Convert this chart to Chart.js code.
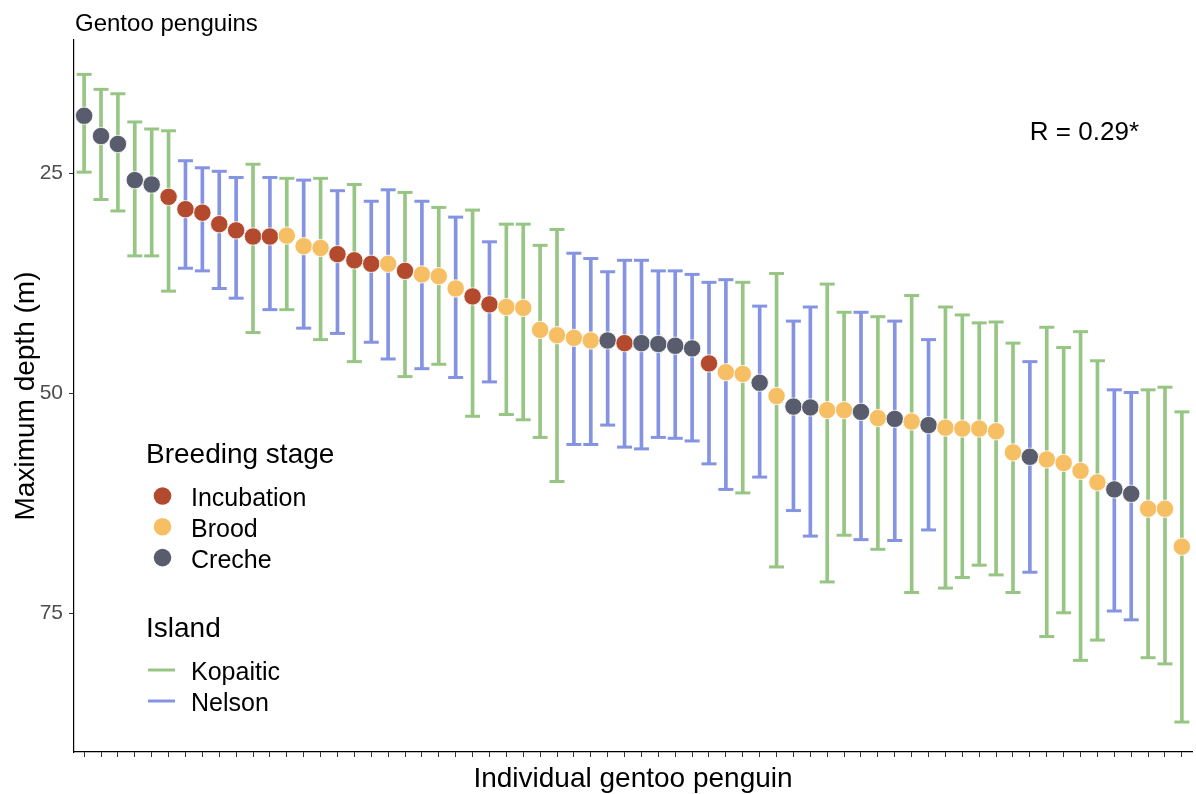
<!DOCTYPE html>
<html>
<head>
<meta charset="utf-8">
<script src="https://cdn.jsdelivr.net/npm/chart.js@4.4.0/dist/chart.umd.min.js"></script>
<style>
  html, body { margin: 0; padding: 0; background: #fff; }
  #wrap { width: 1196px; height: 794px; }
</style>
</head>
<body>
<div id="wrap"><canvas id="chart" width="1196" height="794"></canvas></div>
<script>
// mean maximum dive depth per bird (m), with the bar ends
const meanDepth = [
  18.5, 20.8, 21.7, 25.8, 26.3, 27.7, 29.1, 29.5, 30.8, 31.5,
  32.2, 32.2, 32.1, 33.3, 33.5, 34.2, 34.9, 35.3, 35.3, 36.1,
  36.5, 36.7, 38.1, 39.0, 39.9, 40.2, 40.3, 42.8, 43.4, 43.7,
  44.0, 44.0, 44.3, 44.3, 44.4, 44.6, 44.9, 46.6, 47.6, 47.8,
  48.8, 50.3, 51.5, 51.6, 51.9, 51.9, 52.1, 52.8, 52.9, 53.2,
  53.6, 53.9, 54.0, 54.0, 54.3, 56.7, 57.2, 57.5, 57.9, 58.8,
  60.1, 60.9, 61.4, 63.1, 63.1, 67.4
];
const lowDepth = [
  13.8, 15.5, 16.0, 19.2, 20.0, 20.2, 23.6, 24.4, 24.8, 25.5,
  24.0, 25.5, 25.6, 25.8, 25.6, 27.0, 26.3, 28.2, 26.9, 27.2,
  28.2, 28.9, 30.0, 29.2, 32.8, 30.8, 30.8, 33.2, 31.4, 34.1,
  34.7, 36.2, 34.9, 34.9, 36.1, 36.1, 36.5, 37.4, 37.1, 37.4,
  40.1, 36.4, 41.8, 40.2, 37.6, 40.8, 40.8, 41.3, 41.8, 38.9,
  43.9, 40.2, 41.1, 42.0, 41.9, 44.3, 46.4, 42.5, 44.8, 43.0,
  46.3, 49.6, 49.9, 49.6, 49.3, 52.1
];
const highDepth = [
  24.9, 28.0, 29.3, 34.4, 34.4, 38.4, 35.8, 36.1, 38.1, 39.2,
  43.1, 40.5, 40.5, 42.6, 43.9, 43.2, 46.4, 44.2, 46.1, 48.1,
  47.2, 46.7, 48.2, 52.6, 48.7, 52.4, 53.0, 55.0, 60.0, 55.8,
  55.8, 53.6, 56.1, 56.3, 55.0, 55.1, 55.4, 58.0, 60.9, 61.3,
  59.5, 69.7, 63.3, 66.2, 71.4, 66.1, 66.6, 67.7, 66.7, 72.6,
  65.5, 72.1, 70.9, 69.5, 70.6, 72.6, 70.3, 77.6, 74.9, 80.3,
  78.0, 74.7, 75.7, 80.0, 80.7, 87.3
];
// I = Incubation, B = Brood, C = Creche
const stage = [
  'C','C','C','C','C','I','I','I','I','I',
  'I','I','B','B','B','I','I','I','B','I',
  'B','B','B','I','I','B','B','B','B','B',
  'B','C','I','C','C','C','C','I','B','B',
  'C','B','C','C','B','B','C','B','C','B',
  'C','B','B','B','B','B','C','B','B','B',
  'B','C','C','B','B','B'
];
// K = Kopaitic, N = Nelson
const island = [
  'K','K','K','K','K','K','N','N','N','N',
  'K','N','K','N','K','N','K','N','N','K',
  'N','K','N','K','N','K','K','K','K','N',
  'N','N','N','N','N','N','N','N','N','K',
  'N','K','N','N','K','K','N','K','N','K',
  'N','K','K','K','K','K','N','K','K','K',
  'K','N','N','K','K','K'
];
const yTicks = [25, 50, 75];

const stageNames = { I: 'Incubation', B: 'Brood', C: 'Creche' };
const stageColors = { I: '#B34A2E', B: '#F6BF63', C: '#585C6D' };
const islandNames = { K: 'Kopaitic', N: 'Nelson' };
const islandColors = { K: '#97C684', N: '#8494E2' };

const FONT = '"Liberation Sans", Arial, sans-serif';

const birds = meanDepth.map((_, i) => i);

const textPlugin = {
  id: 'textPlugin',
  afterDraw(chart) {
    const c = chart.ctx;
    const area = chart.chartArea;
    const xs = chart.scales.x;
    const ys = chart.scales.y;
    c.save();
    c.fillStyle = '#000';
    c.textAlign = 'left';
    c.textBaseline = 'alphabetic';

    c.font = '24px ' + FONT;
    c.fillText('Gentoo penguins', area.left + 1, 31);

    c.font = '26px ' + FONT;
    c.fillText('R = 0.29*', xs.getPixelForValue(56), ys.getPixelForValue(21.3));

    // legend: breeding stage
    c.font = '28px ' + FONT;
    c.fillText('Breeding stage', 146, 463);
    ['I', 'B', 'C'].forEach((k, j) => {
      c.beginPath();
      c.arc(162.5, 496 + j * 30.8, 8.8, 0, Math.PI * 2);
      c.fillStyle = stageColors[k];
      c.fill();
      c.fillStyle = '#000';
      c.font = '25px ' + FONT;
      c.fillText(stageNames[k], 191, 506 + j * 30.8);
    });

    // legend: island
    c.font = '28px ' + FONT;
    c.fillText('Island', 146, 637);
    ['K', 'N'].forEach((k, j) => {
      c.beginPath();
      c.moveTo(148, 670 + j * 31);
      c.lineTo(175, 670 + j * 31);
      c.lineWidth = 3;
      c.strokeStyle = islandColors[k];
      c.stroke();
      c.fillStyle = '#000';
      c.font = '25px ' + FONT;
      c.fillText(islandNames[k], 191, 680 + j * 31);
    });
    c.restore();
  }
};

new Chart(document.getElementById('chart'), {
  type: 'scatter',
  data: {
    datasets: [
      {
        label: 'mean',
        order: 0,
        data: birds.map(i => ({ x: i, y: meanDepth[i] })),
        pointRadius: 8.7,
        pointBackgroundColor: birds.map(i => stageColors[stage[i]]),
        pointBorderColor: 'rgba(255,255,255,0.8)',
        pointBorderWidth: 1
      },
      {
        label: 'capLow',
        order: 1,
        data: birds.map(i => ({ x: i, y: lowDepth[i] })),
        pointStyle: 'line',
        pointRadius: 7.5,
        pointBorderWidth: 3,
        pointBorderColor: birds.map(i => islandColors[island[i]])
      },
      {
        label: 'capHigh',
        order: 1,
        data: birds.map(i => ({ x: i, y: highDepth[i] })),
        pointStyle: 'line',
        pointRadius: 7.5,
        pointBorderWidth: 3,
        pointBorderColor: birds.map(i => islandColors[island[i]])
      },
      {
        type: 'bar',
        label: 'range',
        order: 2,
        data: birds.map(i => ({ x: i, y: [lowDepth[i], highDepth[i]] })),
        backgroundColor: birds.map(i => islandColors[island[i]]),
        borderWidth: 0,
        barThickness: 3,
        grouped: false
      }
    ]
  },
  options: {
    responsive: false,
    animation: false,
    events: [],
    layout: { autoPadding: false, padding: { top: 40, right: 4, left: 0, bottom: 0 } },
    plugins: {
      legend: { display: false },
      tooltip: { enabled: false },
      title: { display: false }
    },
    scales: {
      x: {
        type: 'linear',
        min: -0.6,
        max: 65.6,
        offset: false,
        afterBuildTicks: axis => { axis.ticks = birds.map(v => ({ value: v })); },
        afterFit: scale => { scale.height = 42; },
        ticks: { display: false },
        grid: { offset: false, drawOnChartArea: false, drawTicks: true, tickLength: 5, color: '#333', lineWidth: 1 },
        border: { display: true, color: '#000', width: 1.2 },
        title: {
          display: true,
          text: 'Individual gentoo penguin',
          color: '#000',
          font: { family: FONT, size: 28 },
          padding: { top: 0, bottom: -2 }
        }
      },
      y: {
        type: 'linear',
        reverse: true,
        min: 9.9,
        max: 90.7,
        afterBuildTicks: axis => { axis.ticks = yTicks.map(v => ({ value: v })); },
        afterFit: scale => { scale.width = 74; },
        ticks: { color: '#4D4D4D', font: { family: FONT, size: 21 }, padding: 6 },
        grid: { drawOnChartArea: false, drawTicks: true, tickLength: 5, color: '#333', lineWidth: 1 },
        border: { display: true, color: '#000', width: 1.2 },
        title: {
          display: true,
          text: 'Maximum depth (m)',
          color: '#000',
          font: { family: FONT, size: 28 },
          padding: { top: 9, bottom: 0 }
        }
      }
    }
  },
  plugins: [textPlugin]
});
</script>
</body>
</html>
